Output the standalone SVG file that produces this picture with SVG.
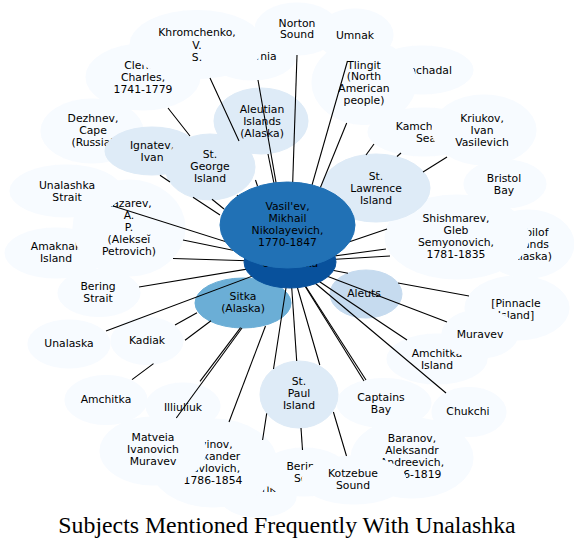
<svg xmlns="http://www.w3.org/2000/svg" width="574" height="548" viewBox="0 0 574 548">
<style>
.n0{fill:#f7fbff;stroke:#f7fbff}
.n1{fill:#deebf7;stroke:#deebf7}
.n2{fill:#c6dbef;stroke:#c6dbef}
.n3{fill:#6baed6;stroke:#6baed6}
.n4{fill:#2171b5;stroke:#2171b5}
.n5{fill:#08519c;stroke:#08519c}
text{font-family:"DejaVu Sans",Verdana,sans-serif;font-size:10.8px;text-anchor:middle;fill:#000}
.edge path{fill:none;stroke:#000;stroke-width:1.1}
.title{font-family:"Liberation Serif","Times New Roman",serif;font-size:23.8px}
</style>
<rect width="574" height="548" fill="#fff"/>
<g id="california"><ellipse class="n0" cx="252" cy="56" rx="44" ry="24"/><text x="251" y="59.8">California</text></g>
<g id="clerke"><ellipse class="n0" cx="143" cy="77" rx="57" ry="33"/><text><tspan x="143" y="68.8">Clerke,</tspan><tspan x="143" y="80.8">Charles,</tspan><tspan x="143" y="92.8">1741-1779</tspan></text></g>
<g id="khromchenko"><ellipse class="n0" cx="197" cy="44.5" rx="67" ry="34"/><text><tspan x="197" y="36.3">Khromchenko,</tspan><tspan x="197" y="48.5">V.</tspan><tspan x="197" y="60.8">S.</tspan></text></g>
<g id="norton"><ellipse class="n0" cx="297" cy="29" rx="42" ry="26"/><text><tspan x="297" y="26.5">Norton</tspan><tspan x="297" y="38.3">Sound</tspan></text></g>
<g id="umnak"><ellipse class="n0" cx="355" cy="35" rx="38" ry="26"/><text x="355" y="38.8">Umnak</text></g>
<g id="kamchadal"><ellipse class="n0" cx="422" cy="70" rx="51" ry="24"/><text x="422" y="73.8">Kamchadal</text></g>
<g id="tlingit"><ellipse class="n0" cx="364" cy="82.5" rx="52" ry="42"/><text><tspan x="364" y="68.5">Tlingit</tspan><tspan x="364" y="80.3">(North</tspan><tspan x="364" y="92.2">American</tspan><tspan x="364" y="104">people)</tspan></text></g>
<g id="kamchatka"><ellipse class="n0" cx="424" cy="132" rx="56" ry="24"/><text><tspan x="426" y="129.8">Kamchatka</tspan><tspan x="426" y="141.8">Sea</tspan></text></g>
<g id="kriukov"><ellipse class="n0" cx="484" cy="130" rx="52" ry="35"/><text><tspan x="482" y="121.8">Kriukov,</tspan><tspan x="482" y="133.8">Ivan</tspan><tspan x="482" y="145.8">Vasilevich</tspan></text></g>
<g id="bristol"><ellipse class="n0" cx="505" cy="184" rx="41" ry="24"/><text><tspan x="504" y="181.8">Bristol</tspan><tspan x="504" y="193.8">Bay</tspan></text></g>
<g id="pribilof"><ellipse class="n0" cx="528" cy="244" rx="46" ry="34"/><text><tspan x="530" y="235.8">Pribilof</tspan><tspan x="530" y="247.8">Islands</tspan><tspan x="530" y="259.8">(Alaska)</tspan></text></g>
<g id="shishmarev"><ellipse class="n0" cx="457" cy="237" rx="72" ry="42"/><text><tspan x="456" y="222.3">Shishmarev,</tspan><tspan x="456" y="234.3">Gleb</tspan><tspan x="456" y="246.3">Semyonovich,</tspan><tspan x="456" y="258.3">1781-1835</tspan></text></g>
<g id="stlawrence"><ellipse class="n1" cx="376" cy="188" rx="54" ry="34"/><text><tspan x="376" y="179.8">St.</tspan><tspan x="376" y="191.8">Lawrence</tspan><tspan x="376" y="203.8">Island</tspan></text></g>
<g id="pinnacle"><ellipse class="n0" cx="517" cy="308" rx="52" ry="32"/><text><tspan x="516" y="306.8">[Pinnacle</tspan><tspan x="516" y="318.8">Island]</tspan></text></g>
<g id="amchitkaisland"><ellipse class="n0" cx="437" cy="359" rx="50" ry="25"/><text><tspan x="437" y="356.8">Amchitka</tspan><tspan x="437" y="368.8">Island</tspan></text></g>
<g id="muravev"><ellipse class="n0" cx="480" cy="334" rx="38" ry="24"/><text x="480" y="337.8">Muravev</text></g>
<g id="chukchi"><ellipse class="n0" cx="469" cy="412" rx="37" ry="24.5"/><text x="468" y="414.8">Chukchi</text></g>
<g id="aleuts"><ellipse class="n2" cx="366" cy="294" rx="36" ry="24"/><text x="364" y="296.8">Aleuts</text></g>
<g id="captainsbay"><ellipse class="n0" cx="384" cy="403" rx="47" ry="24.5"/><text><tspan x="381" y="400.8">Captains</tspan><tspan x="381" y="412.8">Bay</tspan></text></g>
<g id="baranov"><ellipse class="n0" cx="412" cy="458" rx="61" ry="40"/><text><tspan x="412" y="441.8">Baranov,</tspan><tspan x="412" y="453.8">Aleksandr</tspan><tspan x="412" y="465.8">Andreevich,</tspan><tspan x="412" y="477.8">1746-1819</tspan></text></g>
<g id="rurik"><ellipse class="n0" cx="258" cy="497" rx="38" ry="20"/><text x="262" y="492">Rurik</text></g>
<g id="beringsea"><ellipse class="n0" cx="304" cy="472" rx="44" ry="24"/><text><tspan x="304" y="469.8">Bering</tspan><tspan x="304" y="481.8">Sea</tspan></text></g>
<g id="kotzebue"><ellipse class="n0" cx="354" cy="480" rx="52" ry="24"/><text><tspan x="353" y="476.8">Kotzebue</tspan><tspan x="353" y="488.8">Sound</tspan></text></g>
<g id="stpaul"><ellipse class="n1" cx="299" cy="394.5" rx="39" ry="33.5"/><text><tspan x="299" y="385.3">St.</tspan><tspan x="299" y="397.3">Paul</tspan><tspan x="299" y="409.3">Island</tspan></text></g>
<g id="avinov"><ellipse class="n0" cx="213" cy="463" rx="64" ry="44"/><text><tspan x="213" y="447.8">Avinov,</tspan><tspan x="213" y="459.8">Alexander</tspan><tspan x="213" y="471.8">Pavlovich,</tspan><tspan x="213" y="483.8">1786-1854</tspan></text></g>
<g id="matveia"><ellipse class="n0" cx="153" cy="451" rx="53" ry="34"/><text><tspan x="153" y="441.3">Matveia</tspan><tspan x="153" y="453.3">Ivanovich</tspan><tspan x="153" y="465.3">Muravev</tspan></text></g>
<g id="illiuliuk"><ellipse class="n0" cx="183" cy="406" rx="37" ry="23"/><text x="183" y="410.8">Illiuliuk</text></g>
<g id="amchitka"><ellipse class="n0" cx="106" cy="400" rx="41" ry="24.5"/><text x="106" y="402.8">Amchitka</text></g>
<g id="kadiak"><ellipse class="n0" cx="147" cy="341" rx="36" ry="23.5"/><text x="147" y="343.8">Kadiak</text></g>
<g id="unalaska"><ellipse class="n0" cx="69" cy="344" rx="41" ry="24"/><text x="69" y="346.8">Unalaska</text></g>
<g id="sitka"><ellipse class="n3" cx="243" cy="303" rx="48" ry="25"/><text><tspan x="243" y="300.3">Sitka</tspan><tspan x="243" y="312.3">(Alaska)</tspan></text></g>
<g id="beringstrait"><ellipse class="n0" cx="99" cy="293" rx="41" ry="23.5"/><text><tspan x="98" y="290.3">Bering</tspan><tspan x="98" y="302.3">Strait</tspan></text></g>
<g id="amaknak"><ellipse class="n0" cx="56" cy="253" rx="51" ry="25"/><text><tspan x="56" y="249.8">Amaknak</tspan><tspan x="56" y="261.8">Island</tspan></text></g>
<g id="lazarev"><ellipse class="n0" cx="129" cy="228" rx="56" ry="48"/><text><tspan x="129" y="207.3">Lazarev,</tspan><tspan x="129" y="219.3">A.</tspan><tspan x="129" y="231.3">P.</tspan><tspan x="129" y="243.3">(Alekseĭ</tspan><tspan x="129" y="255.3">Petrovich)</tspan></text></g>
<g id="unalashkastrait"><ellipse class="n0" cx="66" cy="191" rx="56" ry="26"/><text><tspan x="67" y="188.8">Unalashka</tspan><tspan x="67" y="200.8">Strait</tspan></text></g>
<g id="dezhnev"><ellipse class="n0" cx="92" cy="131" rx="51" ry="32"/><text><tspan x="93" y="121.8">Dezhnev,</tspan><tspan x="93" y="133.8">Cape</tspan><tspan x="93" y="145.8">(Russia)</tspan></text></g>
<g id="ignatev"><ellipse class="n1" cx="152" cy="151" rx="47" ry="24"/><text><tspan x="152" y="148.8">Ignatev,</tspan><tspan x="152" y="160.8">Ivan</tspan></text></g>
<g id="stgeorge"><ellipse class="n1" cx="210" cy="167" rx="45" ry="33"/><text><tspan x="210" y="157.8">St.</tspan><tspan x="210" y="169.8">George</tspan><tspan x="210" y="181.8">Island</tspan></text></g>
<g id="aleutian"><ellipse class="n1" cx="261" cy="121" rx="47" ry="33"/><text><tspan x="262" y="112.8">Aleutian</tspan><tspan x="262" y="124.8">Islands</tspan><tspan x="262" y="136.8">(Alaska)</tspan></text></g>
<g id="connectors" class="edge">
<path d="M210,78L239,141M255.5,180L257.5,186"/>
<path d="M258,80L290,262"/>
<path d="M297,55L290,262"/>
<path d="M347.5,61L290,262"/>
<path d="M346.7,123L290,262"/>
<path d="M268,154L290,262"/>
<path d="M374,144L366,155"/>
<path d="M401,153L397,156.5"/>
<path d="M447,157L423,172"/>
<path d="M387,229L290,262"/>
<path d="M386,249L290,262"/>
<path d="M390,256L290,262"/>
<path d="M290,262L348,273.3M398,283L469,296"/>
<path d="M290,262L447,322"/>
<path d="M290,262L407,340"/>
<path d="M290,262L446,393"/>
<path d="M290,262L366,380"/>
<path d="M290,262L364,381"/>
<path d="M290,262L319.8,365M333.4,412L346.5,456"/>
<path d="M290,262L296.7,361"/>
<path d="M301,428L302.5,450"/>
<path d="M290,262L273.5,369M266.7,413.3L262.6,440"/>
<path d="M265.5,326L229,422"/>
<path d="M242,328L176.3,418"/>
<path d="M240.6,327.7L200,381.4"/>
<path d="M211,320.8L185,340.2M153.5,363.6L132,379.6"/>
<path d="M197,312.7L175,325"/>
<path d="M290,262L106,331"/>
<path d="M290,262L139,287"/>
<path d="M290,262L173,258.5"/>
<path d="M290,262L183,240"/>
<path d="M290,262L113,206"/>
<path d="M160,175.3L170,182M193,197.3L220,215"/>
<path d="M212,199.3L224,209"/>
<path d="M168,108L190,136M237,195L239.5,198"/>
</g>
<g id="unalashka"><ellipse class="n5" cx="290" cy="262" rx="46" ry="26"/><text x="290" y="267">Unalashka</text></g>
<g id="vasilev"><ellipse class="n4" cx="287.5" cy="225" rx="67.5" ry="43"/><text><tspan x="287.5" y="209.8">Vasil'ev,</tspan><tspan x="287.5" y="221.8">Mikhail</tspan><tspan x="287.5" y="233.8">Nikolayevich,</tspan><tspan x="287.5" y="245.8">1770-1847</tspan></text></g>
<text class="title" x="287" y="533">Subjects Mentioned Frequently With Unalashka</text>
</svg>
